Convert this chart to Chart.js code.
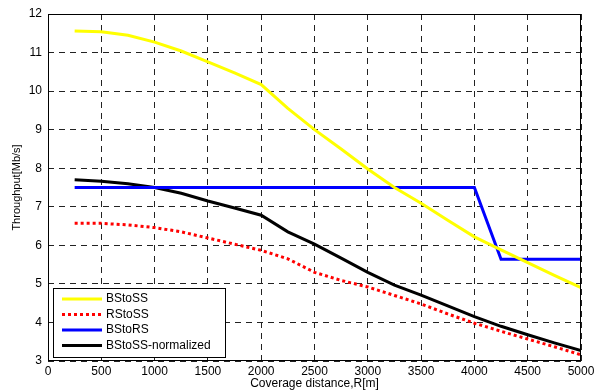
<!DOCTYPE html>
<html>
<head>
<meta charset="utf-8">
<script src="https://cdn.jsdelivr.net/npm/chart.js@4/dist/chart.umd.min.js"></script>
<style>
  html, body { margin:0; padding:0; background:#fff; }
  #wrap { width:595px; height:391px; }
</style>
</head>
<body>
<div id="wrap"><canvas id="c" width="595" height="391"></canvas></div>
<script>
// 거리 (m)
const distances = [250, 500, 750, 1000, 1250, 1500, 1750, 2000, 2250, 2500, 2750, 3000, 3250, 3500, 3750, 4000, 4250, 4500, 4750, 5000];

// 처리량 (Mb/s)
const bsToSs = [11.56, 11.54, 11.45, 11.27, 11.04, 10.76, 10.47, 10.17, 9.55, 9.0, 8.5, 7.98, 7.5, 7.09, 6.65, 6.22, 5.88, 5.55, 5.22, 4.9];
const rsToSs = [6.57, 6.57, 6.53, 6.46, 6.35, 6.19, 6.03, 5.87, 5.65, 5.3, 5.09, 4.92, 4.7, 4.48, 4.22, 3.98, 3.77, 3.57, 3.37, 3.16];
const bsToRs = [7.5, 7.5, 7.5, 7.5, 7.5, 7.5, 7.5, 7.5, 7.5, 7.5, 7.5, 7.5, 7.5, 7.5, 7.5, 7.5, 5.64, 5.64, 5.64, 5.64];
const bsToSsNorm = [7.7, 7.66, 7.6, 7.5, 7.35, 7.15, 6.97, 6.78, 6.35, 6.03, 5.67, 5.3, 4.97, 4.71, 4.43, 4.15, 3.9, 3.68, 3.47, 3.27];

const xTicks = [0, 500, 1000, 1500, 2000, 2500, 3000, 3500, 4000, 4500, 5000];
const yTicks = [3, 4, 5, 6, 7, 8, 9, 10, 11, 12];

const FONT = 'Liberation Sans, Arial, sans-serif';

function toPoints(values){
  return distances.map((d, i) => ({ x: d, y: values[i] }));
}

// 범례 + 테두리 그리기
const framePlugin = {
  id: 'frame',
  afterDatasetsDraw(chart){
    const { ctx, chartArea: a } = chart;
    ctx.save();
    ctx.strokeStyle = '#000';
    ctx.lineWidth = 1;
    ctx.strokeRect(a.left + 0.5, a.top + 0.5, a.right - a.left - 1, a.bottom - a.top - 1);

    // 범례 상자
    const bx = a.left + 5, by = a.bottom - 73, bw = 172, bh = 69;
    ctx.fillStyle = '#fff';
    ctx.fillRect(bx, by, bw, bh);
    ctx.lineWidth = 1;
    ctx.strokeStyle = '#000';
    ctx.strokeRect(bx + 0.5, by + 0.5, bw, bh);
    ctx.font = '12px ' + FONT;
    ctx.textBaseline = 'middle';
    chart.data.datasets.forEach((ds, i) => {
      const y = by + 11 + i * 15.5;
      ctx.beginPath();
      ctx.strokeStyle = ds.borderColor;
      ctx.lineWidth = ds.borderWidth;
      ctx.setLineDash(ds.borderDash || []);
      ctx.moveTo(bx + 9, y);
      ctx.lineTo(bx + 49, y);
      ctx.stroke();
      ctx.setLineDash([]);
      ctx.fillStyle = '#000';
      ctx.fillText(ds.label, bx + 53, y);
    });
    ctx.restore();
  }
};

new Chart(document.getElementById('c').getContext('2d'), {
  type: 'line',
  data: {
    datasets: [
      { label: 'BStoSS', data: toPoints(bsToSs), borderColor: '#ffff00', borderWidth: 3 },
      { label: 'RStoSS', data: toPoints(rsToSs), borderColor: '#ff0000', borderWidth: 3, borderDash: [3, 3] },
      { label: 'BStoRS', data: toPoints(bsToRs), borderColor: '#0000ff', borderWidth: 3 },
      { label: 'BStoSS-normalized', data: toPoints(bsToSsNorm), borderColor: '#000000', borderWidth: 3 }
    ]
  },
  options: {
    responsive: false,
    animation: false,
    events: [],
    layout: { padding: { left: 0, top: 14, right: 14, bottom: 0 } },
    elements: { point: { radius: 0 }, line: { tension: 0, borderCapStyle: 'butt' } },
    plugins: { legend: { display: false }, tooltip: { enabled: false } },
    scales: {
      x: {
        type: 'linear',
        min: 0, max: 5000,
        afterBuildTicks(scale){ scale.ticks = xTicks.map(v => ({ value: v })); },
        afterFit(scale){ scale.height = 30; scale.paddingRight = 0; scale.paddingLeft = 0; },
        grid: { color: '#222', lineWidth: 1, drawTicks: false },
        border: { display: false, dash: [6, 5] },
        ticks: { color: '#000', font: { family: FONT, size: 12 }, padding: 3, maxRotation: 0, callback: v => String(v) },
        title: { display: true, text: 'Coverage distance,R[m]', color: '#000', font: { family: FONT, size: 12 }, padding: { top: 0, bottom: 0 } }
      },
      y: {
        min: 3, max: 12,
        afterBuildTicks(scale){ scale.ticks = yTicks.map(v => ({ value: v })); },
        afterFit(scale){ scale.width = 48; },
        grid: { color: '#222', lineWidth: 1, drawTicks: false },
        border: { display: false, dash: [6, 5] },
        ticks: { color: '#000', font: { family: FONT, size: 12 }, padding: 6, callback: v => String(v) },
        title: { display: true, text: 'Throughput[Mb/s]', color: '#000', font: { family: FONT, size: 11 }, padding: { top: 10, bottom: 0 } }
      }
    }
  },
  plugins: [framePlugin]
});
</script>
</body>
</html>
